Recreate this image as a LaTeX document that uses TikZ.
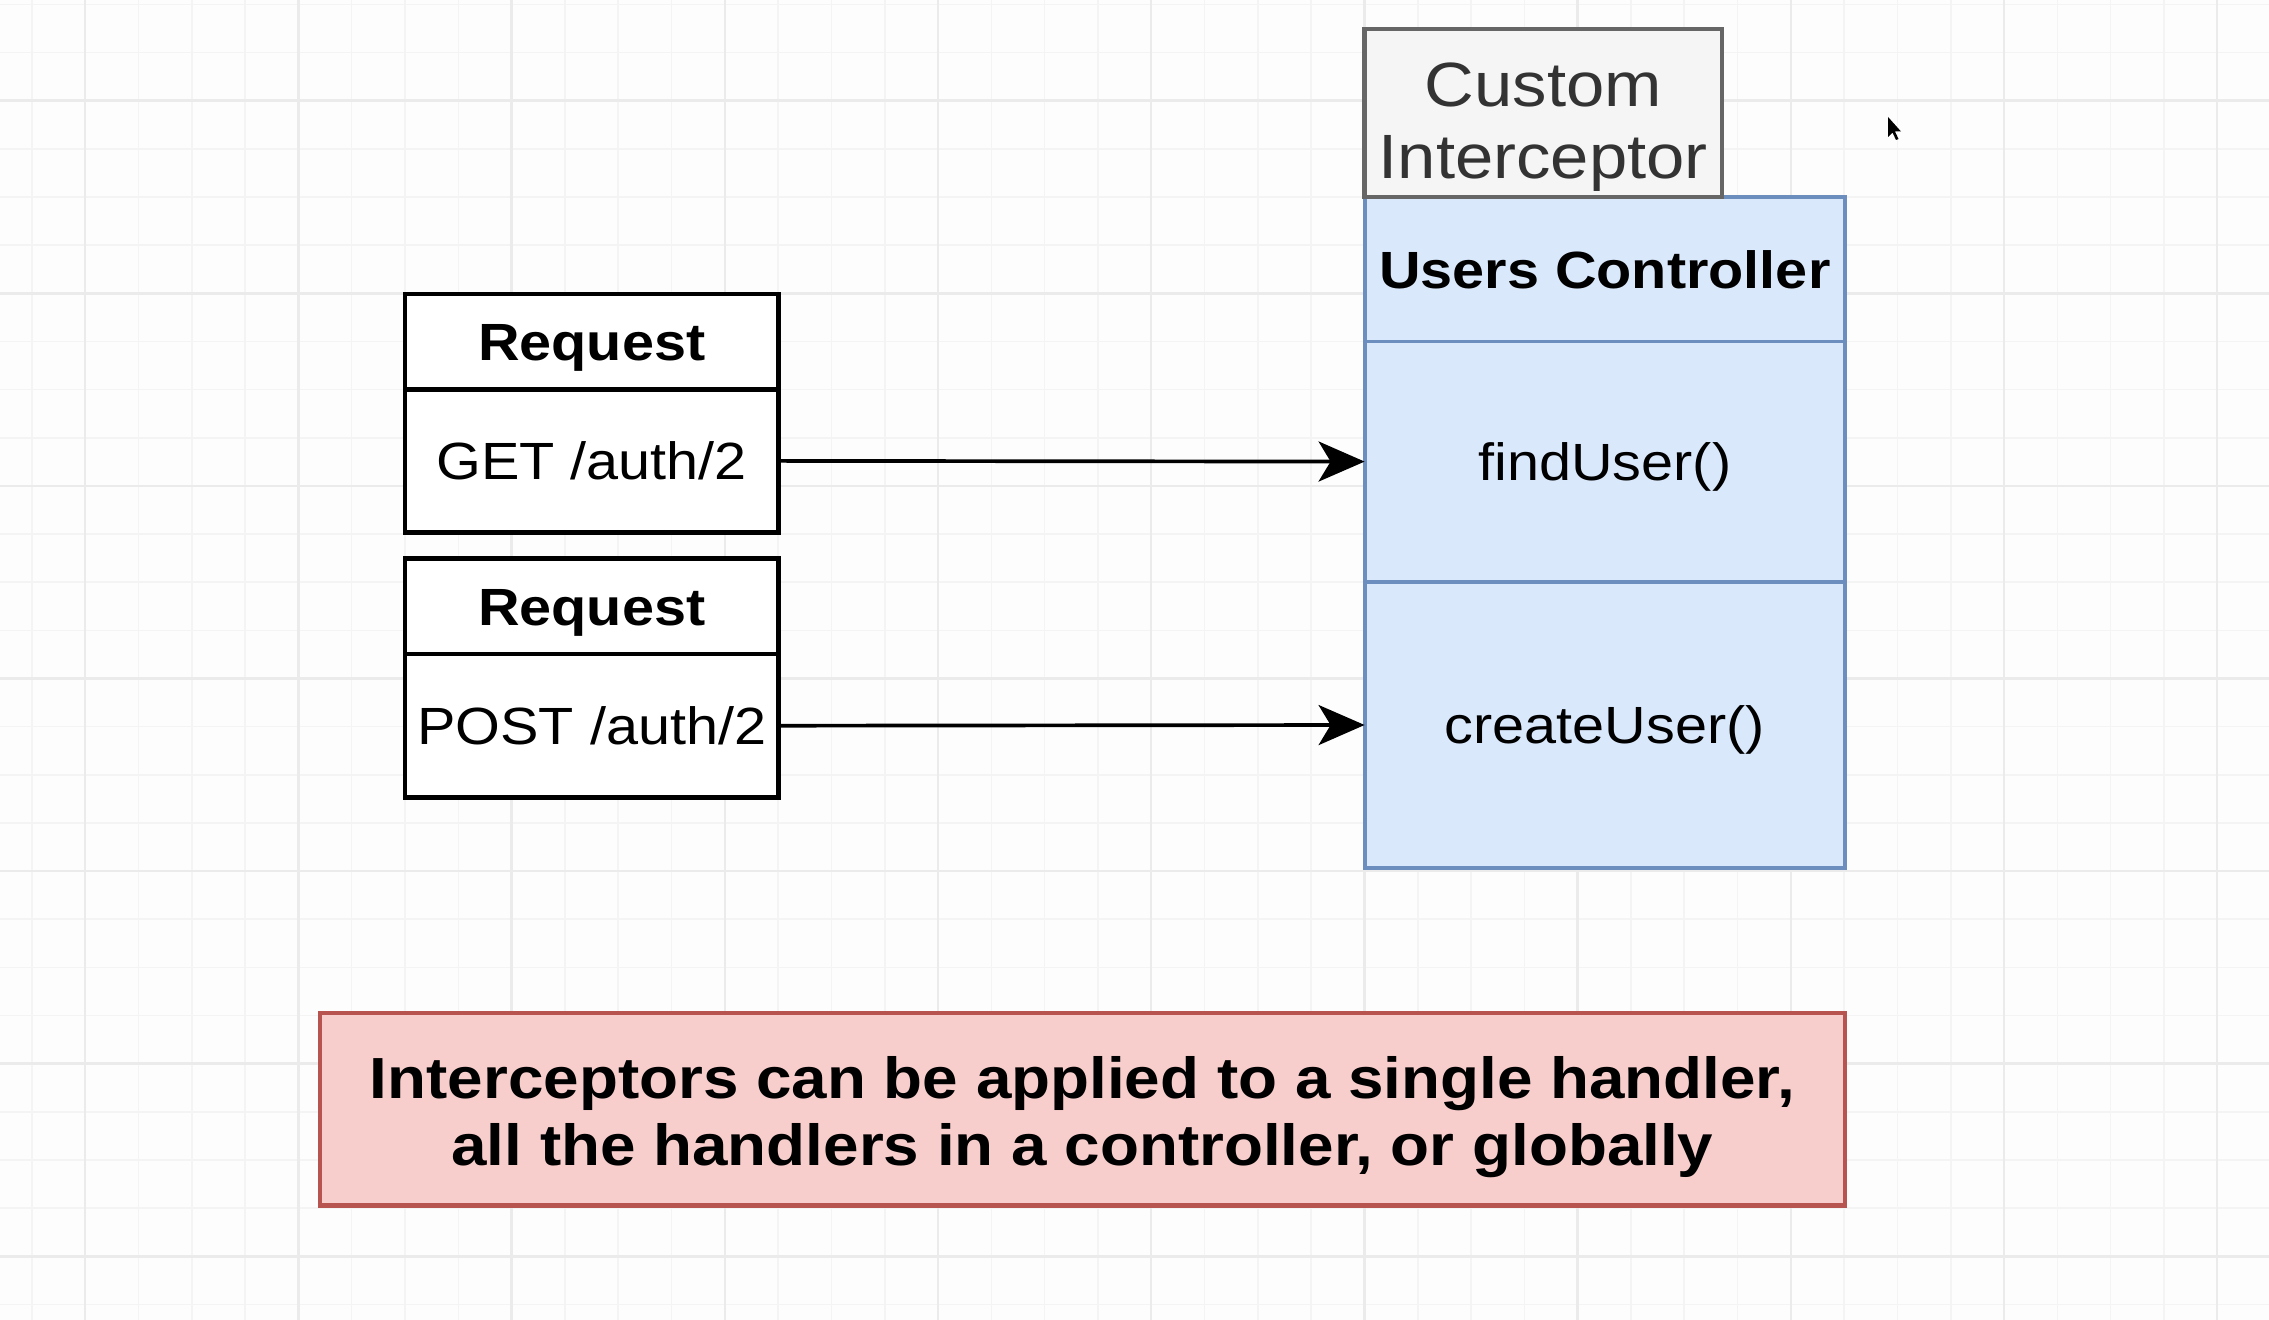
\documentclass[tikz,border=0pt]{standalone}
\usepackage{fontspec}
\setmainfont{Liberation Sans}[FakeStretch=1.1]
\usetikzlibrary{arrows.meta}
\definecolor{bgcol}{HTML}{FDFDFD}
\definecolor{gridminor}{HTML}{F4F4F4}
\definecolor{gridmajor}{HTML}{EBEBEB}
\definecolor{bluefill}{HTML}{DAE8FC}
\definecolor{blueline}{HTML}{6C8EBF}
\definecolor{grayfill}{HTML}{F5F5F5}
\definecolor{grayline}{HTML}{666666}
\definecolor{graytext}{HTML}{333333}
\definecolor{redfill}{HTML}{F8CECC}
\definecolor{redline}{HTML}{B85450}
\newcommand{\topstrut}[1]{\rule{0pt}{#1}}
\tikzset{
  boxbase/.style={rectangle, inner sep=0pt, outer sep=0pt, align=center},
  reqbox/.style={boxbase, draw=black, fill=white, line width=1.3pt, minimum width=3.735cm,
    font=\fontsize{14.9}{18}\selectfont, text height=10.8pt, text depth=0pt},
  ctrlbox/.style={boxbase, draw=blueline, fill=bluefill, line width=1.1pt, minimum width=4.804cm,
    font=\fontsize{14.9}{18}\selectfont, text height=10.8pt, text depth=0pt},
  interbox/.style={boxbase, draw=grayline, fill=grayfill, line width=1.3pt, text=graytext,
    minimum width=3.574cm, minimum height=1.678cm, font=\fontsize{17.8}{20.5}\selectfont},
  notebox/.style={boxbase, draw=redline, fill=redfill, line width=1.2pt,
    minimum width=15.252cm, minimum height=1.924cm, font=\fontsize{16.5}{19.2}\selectfont\bfseries},
  flow/.style={line width=1.05pt, -{Stealth[length=0.46cm, width=0.40cm, inset=0.12cm]}},
  gminor/.style={draw=gridminor, line width=0.45pt},
  gmajor/.style={draw=gridmajor, line width=0.7pt}
}
\begin{document}
\begin{tikzpicture}[x=1cm,y=-1cm]
\useasboundingbox (0,0) rectangle (22.69,13.2);
\fill[bgcol] (0,0) rectangle (22.69,13.2);
% grid
\foreach \i in {0,...,42} {\draw[gminor] ({0.319+0.533*\i},0) -- ({0.319+0.533*\i},13.2);}
\foreach \i in {0,...,27} {\draw[gminor] (0,{0.044+0.4815*\i}) -- (22.69,{0.044+0.4815*\i});}
\foreach \i in {0,...,10} {\draw[gmajor] ({0.852+2.132*\i},0) -- ({0.852+2.132*\i},13.2);}
\foreach \i in {0,...,6} {\draw[gmajor] (0,{1.007+1.926*\i}) -- (22.69,{1.007+1.926*\i});}

% requests
\node[reqbox, minimum height=0.955cm] (r1h) at (5.9175,3.4155) {\bfseries Request};
\node[reqbox, minimum height=1.432cm] (r1b) at (5.9175,4.609) {GET /auth/2};
\node[reqbox, minimum height=0.954cm] (r2h) at (5.9175,6.063) {\bfseries Request};
\node[reqbox, minimum height=1.434cm] (r2b) at (5.9175,7.257) {POST /auth/2};

% controller
\node[ctrlbox, minimum height=1.447cm] (uc) at (16.048,2.6915) {\bfseries Users Controller};
\node[ctrlbox, minimum height=2.402cm] (fu) at (16.048,4.616) {findUser()};
\node[ctrlbox, minimum height=2.866cm] (cu) at (16.048,7.25) {createUser()};

% interceptor
\node[interbox] (ci) at (15.433,1.129) {\topstrut{20.8pt}Custom\\Interceptor};

% note
\node[notebox] (note) at (10.824,11.092) {\topstrut{16.5pt}Interceptors can be applied to a single handler,\\all the handlers in a controller, or globally};

% connectors
\draw[flow] (r1b.east) -- (fu.west);
\draw[flow] (r2b.east) -- (cu.west);

% mouse pointer
\fill[black] (18.88,1.17) -- (18.88,1.37) -- (18.925,1.325) -- (18.96,1.40) -- (18.985,1.39) -- (18.95,1.315) -- (19.01,1.315) -- cycle;
\end{tikzpicture}
\end{document}
